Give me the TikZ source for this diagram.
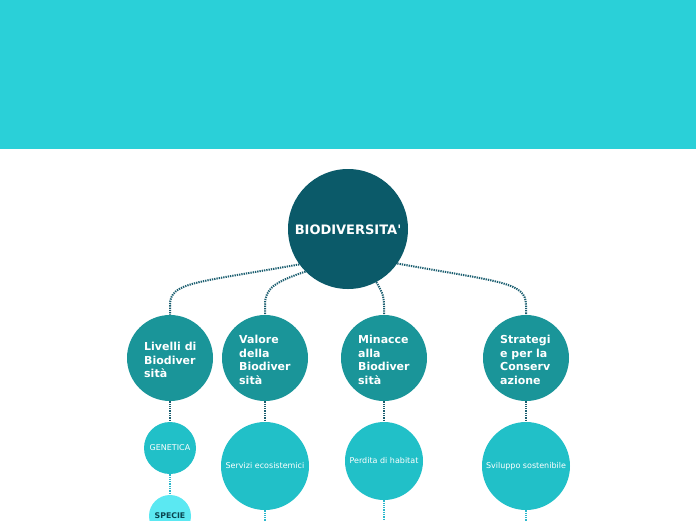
\documentclass[tikz,border=0pt]{standalone}
\usepackage{fontspec}
\setmainfont{DejaVu Sans}
\newfontfamily\plainsans{DejaVu Sans}
\definecolor{banner}{HTML}{2AD0D8}
\definecolor{rootc}{HTML}{0B5A69}
\definecolor{lvtwo}{HTML}{1A9599}
\definecolor{lvthree}{HTML}{21C0C8}
\definecolor{specc}{HTML}{5BE8F2}
\definecolor{darkline}{HTML}{1B5E70}
\definecolor{cyanline}{HTML}{2BB8CC}
\definecolor{spectext}{HTML}{0A4450}
\tikzset{
  bub/.style={circle, inner sep=0pt, text=white},
  rootbub/.style={bub, fill=rootc, minimum size=120pt},
  twobub/.style={bub, fill=lvtwo, minimum size=86pt},
  threebub/.style={circle, inner sep=0pt, fill=lvthree, text=white, font=\fontsize{8}{10}\selectfont},
  specbub/.style={circle, inner sep=0pt, fill=specc, text=spectext, minimum size=42pt, font=\fontsize{7.8}{9}\selectfont\bfseries},
  dline/.style={draw=darkline, line width=2pt, dash pattern=on 1.3pt off 1pt},
  cline/.style={draw=cyanline, line width=2pt, dash pattern=on 1.3pt off 1pt},
  txt/.style={align=left, inner sep=0pt, text=white, font=\fontsize{11}{13.6}\selectfont\bfseries}
}
\begin{document}
\begin{tikzpicture}[x=1pt,y=-1pt]
\useasboundingbox (0,0) rectangle (696,520);
\clip (0,0) rectangle (696,520);
\fill[white] (0,0) rectangle (696,520);
\fill[banner] (0,0) rectangle (696,149);

% root and connectors root -> level 2
\node[rootbub] (root) at (348,229) {};
\coordinate (l1top) at (170,315);
\coordinate (l2top) at (265,315);
\coordinate (l3top) at (384,315);
\coordinate (l4top) at (526,315);
\draw[dline] (root.216) .. controls (195,283) and (170,282) .. (170,305) -- (l1top);
\draw[dline] (root.225) .. controls (275,282) and (265,288) .. (265,305) -- (l2top);
\draw[dline] (root.298) .. controls (381,290) and (384,295) .. (384,305) -- (l3top);
\draw[dline] (root.325) .. controls (500,282) and (526,282) .. (526,305) -- (l4top);

% level 2
\node[twobub] (liv) at (170,358) {};
\node[twobub] (val) at (265,358) {};
\node[twobub] (min) at (384,358) {};
\node[twobub] (str) at (526,358) {};
\node[txt, anchor=west] (livt) at (144,360) {Livelli di\\Biodiver\\sità};
\node[txt, anchor=west] (valt) at (239,360) {Valore\\della\\Biodiver\\sità};
\node[txt, anchor=west] (mint) at (358,360) {Minacce\\alla\\Biodiver\\sità};
\node[txt, anchor=west] (strt) at (500,360) {Strategi\\e per la\\Conserv\\azione};

% level 3
\node[threebub, minimum size=52pt] (gen) at (170,448) {GENETICA};
\node[threebub, minimum size=88pt] (ser) at (265,466) {Servizi ecosistemici};
\node[threebub, minimum size=78pt] (per) at (384,461) {Perdita di habitat};
\node[threebub, minimum size=88pt] (svi) at (526,466) {Sviluppo sostenibile};
\node[specbub] (spe) at (170,516) {SPECIE};

\draw[dline] (liv) -- (gen);
\draw[dline] (val) -- (ser);
\draw[dline] (min) -- (per);
\draw[dline] (str) -- (svi);
\draw[cline] (gen) -- (spe);
\coordinate (serbot) at (265,530);
\coordinate (perbot) at (384,530);
\coordinate (svibot) at (526,530);
\draw[cline] (ser) -- (serbot);
\draw[cline] (per) -- (perbot);
\draw[cline] (svi) -- (svibot);

\node[text=white, inner sep=0pt, font=\plainsans\fontsize{13}{15}\selectfont\bfseries] (roott) at (348,230) {BIODIVERSITA'};
\end{tikzpicture}
\end{document}
